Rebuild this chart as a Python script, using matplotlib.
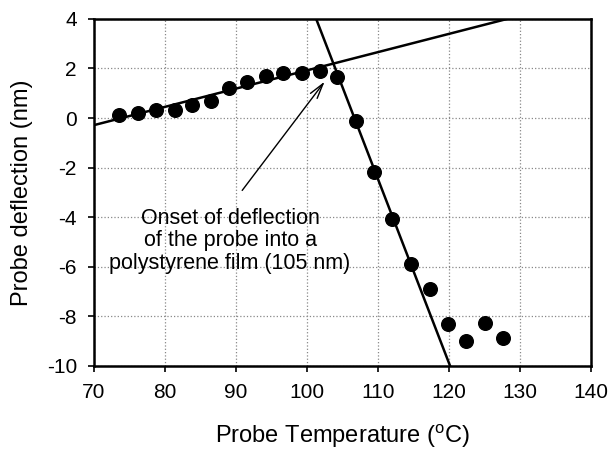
import matplotlib.pyplot as plt
import numpy as np

plt.rcParams['font.family'] = ['Liberation Sans', 'DejaVu Sans']
plt.rcParams['axes.unicode_minus'] = False

# probe temperature (C) and measured deflection (nm)
temperature = [73.6, 76.2, 78.8, 81.4, 83.9, 86.5, 89.1, 91.6, 94.2, 96.7, 99.3,
               101.8, 104.3, 106.9, 109.5, 112.0, 114.7, 117.3, 119.9, 122.4,
               125.0, 127.6]
deflection = [0.14, 0.20, 0.31, 0.31, 0.52, 0.68, 1.22, 1.45, 1.69, 1.83, 1.81,
              1.88, 1.65, -0.12, -2.19, -4.07, -5.88, -6.89, -8.30, -8.98,
              -8.25, -8.88]

# linear fits: before and after the onset
fit_pre = (0.0737, -5.449)     # slope, intercept
fit_post = (-0.743, 79.27)

xticks = [70, 80, 90, 100, 110, 120, 130, 140]
yticks = [-10, -8, -6, -4, -2, 0, 2, 4]

fig = plt.figure(figsize=(6.12, 4.49), dpi=100)
ax = fig.add_axes([0.153, 0.185, 0.813, 0.773])

xs = np.array([70, 140])
ax.plot(xs, fit_pre[0] * xs + fit_pre[1], color='black', lw=1.8, zorder=3)
ax.plot(xs, fit_post[0] * xs + fit_post[1], color='black', lw=1.8, zorder=3)
ax.plot(temperature, deflection, 'o', color='black', ms=9.8, zorder=4)

ax.set_xlim(70, 140)
ax.set_ylim(-10, 4)
ax.set_xticks(xticks)
ax.set_yticks(yticks)
ax.grid(True, color='#888888', linestyle=':', lw=0.9)
ax.set_axisbelow(True)

for s in ax.spines.values():
    s.set_linewidth(1.8)
ax.tick_params(axis='both', direction='out', length=4, width=1.2,
               labelsize=15, pad=8)

ax.set_xlabel('Probe Temperature ($\\mathregular{^oC}$)', fontsize=17, labelpad=15)
ax.set_ylabel('Probe deflection (nm)', fontsize=17, labelpad=10)

ax.annotate('', xy=(102.5, 1.47), xytext=(90.9, -2.92),
            arrowprops=dict(arrowstyle='->,head_length=1.1,head_width=0.3',
                            color='black', lw=1.0, shrinkA=0, shrinkB=0))
ax.text(89.2, -4.95, 'Onset of deflection\nof the probe into a\npolystyrene film (105 nm)',
        ha='center', va='center', fontsize=15.5, linespacing=1.1)

fig.savefig('out.png', dpi=100)
